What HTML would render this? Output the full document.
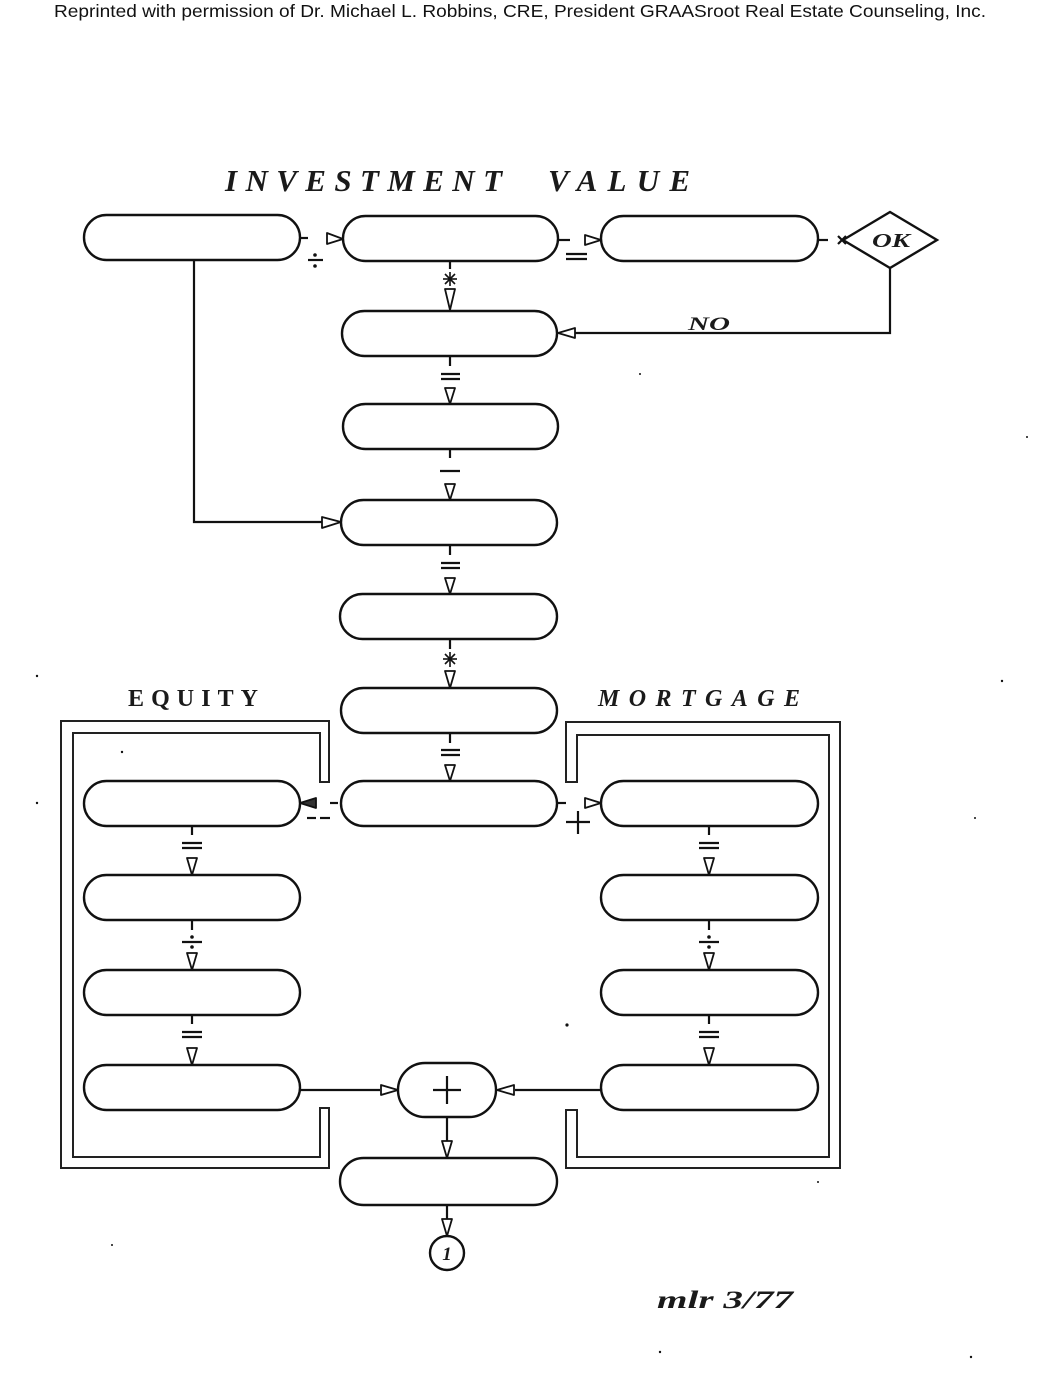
<!DOCTYPE html>
<html><head><meta charset="utf-8"><style>
html,body{margin:0;padding:0;background:#fff;}
svg{display:block;}
</style></head><body>
<svg width="1038" height="1380" viewBox="0 0 1038 1380" xmlns="http://www.w3.org/2000/svg">
<rect width="1038" height="1380" fill="#fff"/>
<text x="54" y="17" font-family="Liberation Sans, Arial, sans-serif" font-size="17.5" fill="#111" textLength="932" lengthAdjust="spacingAndGlyphs">Reprinted with permission of Dr. Michael L. Robbins, CRE, President GRAASroot Real Estate Counseling, Inc.</text>
<g font-family="Liberation Serif, serif" font-weight="bold" fill="#1a1a1a">
<text x="225" y="191" font-size="31" font-style="italic" textLength="277" lengthAdjust="spacing">INVESTMENT</text>
<text x="548" y="191" font-size="31" font-style="italic" textLength="142" lengthAdjust="spacing">VALUE</text>
<text x="128" y="706" font-size="24" textLength="130" lengthAdjust="spacing">EQUITY</text>
<text x="598" y="706" font-size="24" font-style="italic" textLength="202" lengthAdjust="spacing">MORTGAGE</text>
<text x="872" y="247" font-size="20" font-style="italic" textLength="38" lengthAdjust="spacingAndGlyphs">OK</text>
<text x="688" y="330" font-size="19" font-style="italic" textLength="42" lengthAdjust="spacingAndGlyphs">NO</text>
<text x="657" y="1308" font-size="25" font-style="italic" textLength="136" lengthAdjust="spacingAndGlyphs">mlr  3/77</text>
<text x="447" y="1260" font-size="19" font-style="italic" text-anchor="middle">1</text>
</g>
<g fill="none" stroke="#111" stroke-width="2.4">
<rect x="84" y="215" width="216" height="45" rx="22.5"/>
<rect x="343" y="216" width="215" height="45" rx="22.5"/>
<rect x="601" y="216" width="217" height="45" rx="22.5"/>
<polygon points="843,240 890,212 937,240 890,268"/>
<rect x="342" y="311" width="215" height="45" rx="22.5"/>
<rect x="343" y="404" width="215" height="45" rx="22.5"/>
<rect x="341" y="500" width="216" height="45" rx="22.5"/>
<rect x="340" y="594" width="217" height="45" rx="22.5"/>
<rect x="341" y="688" width="216" height="45" rx="22.5"/>
<rect x="341" y="781" width="216" height="45" rx="22.5"/>
<rect x="84" y="781" width="216" height="45" rx="22.5"/>
<rect x="84" y="875" width="216" height="45" rx="22.5"/>
<rect x="84" y="970" width="216" height="45" rx="22.5"/>
<rect x="84" y="1065" width="216" height="45" rx="22.5"/>
<rect x="601" y="781" width="217" height="45" rx="22.5"/>
<rect x="601" y="875" width="217" height="45" rx="22.5"/>
<rect x="601" y="970" width="217" height="45" rx="22.5"/>
<rect x="601" y="1065" width="217" height="45" rx="22.5"/>
<rect x="398" y="1063" width="98" height="54" rx="27"/>
<rect x="340" y="1158" width="217" height="47" rx="23.5"/>
<circle cx="447" cy="1253" r="17"/>
</g>
<g fill="none" stroke="#222" stroke-width="2">
<path d="M329,782 L329,721 L61,721 L61,1168 L329,1168 L329,1108 L320,1108 L320,1157 L73,1157 L73,733 L320,733 L320,782 Z"/>
<path d="M566,782 L566,722 L840,722 L840,1168 L566,1168 L566,1110 L577,1110 L577,1157 L829,1157 L829,735 L577,735 L577,782 Z"/>
</g>
<g fill="none" stroke="#111" stroke-width="2.2">
<line x1="300" y1="238" x2="308" y2="238"/>
<line x1="308" y1="260" x2="323" y2="260"/>
<line x1="558" y1="240" x2="570" y2="240"/>
<line x1="566" y1="254" x2="587" y2="254"/>
<line x1="566" y1="259" x2="587" y2="259"/>
<line x1="818" y1="240" x2="828" y2="240"/>
<line x1="838" y1="236" x2="846" y2="244"/>
<line x1="838" y1="244" x2="846" y2="236"/>
<polyline points="890,268 890,333 575,333"/>
<polyline points="194,260 194,522 322,522"/>
<line x1="450" y1="262" x2="450" y2="269"/>
<line x1="450" y1="357" x2="450" y2="366"/>
<line x1="441" y1="374" x2="460" y2="374"/>
<line x1="441" y1="379" x2="460" y2="379"/>
<line x1="450" y1="450" x2="450" y2="458"/>
<line x1="440" y1="471" x2="460" y2="471"/>
<line x1="450" y1="546" x2="450" y2="555"/>
<line x1="441" y1="563" x2="460" y2="563"/>
<line x1="441" y1="568" x2="460" y2="568"/>
<line x1="450" y1="640" x2="450" y2="649"/>
<line x1="450" y1="734" x2="450" y2="743"/>
<line x1="441" y1="750" x2="460" y2="750"/>
<line x1="441" y1="755" x2="460" y2="755"/>
<line x1="330" y1="803" x2="338" y2="803"/>
<line x1="307" y1="818" x2="316" y2="818"/>
<line x1="320" y1="818" x2="330" y2="818"/>
<line x1="558" y1="803" x2="566" y2="803"/>
<line x1="566" y1="822" x2="590" y2="822"/>
<line x1="578" y1="811" x2="578" y2="834"/>
<line x1="192" y1="827" x2="192" y2="835"/>
<line x1="182" y1="843" x2="202" y2="843"/>
<line x1="182" y1="848" x2="202" y2="848"/>
<line x1="192" y1="921" x2="192" y2="930"/>
<line x1="182" y1="942" x2="202" y2="942"/>
<line x1="192" y1="1016" x2="192" y2="1024"/>
<line x1="182" y1="1032" x2="202" y2="1032"/>
<line x1="182" y1="1037" x2="202" y2="1037"/>
<line x1="709" y1="827" x2="709" y2="835"/>
<line x1="699" y1="843" x2="719" y2="843"/>
<line x1="699" y1="848" x2="719" y2="848"/>
<line x1="709" y1="921" x2="709" y2="930"/>
<line x1="699" y1="942" x2="719" y2="942"/>
<line x1="709" y1="1016" x2="709" y2="1024"/>
<line x1="699" y1="1032" x2="719" y2="1032"/>
<line x1="699" y1="1037" x2="719" y2="1037"/>
<line x1="300" y1="1090" x2="380" y2="1090"/>
<line x1="601" y1="1090" x2="515" y2="1090"/>
<line x1="447" y1="1117" x2="447" y2="1141"/>
<line x1="447" y1="1205" x2="447" y2="1219"/>
<line x1="433" y1="1090" x2="461" y2="1090"/>
<line x1="447" y1="1076" x2="447" y2="1104"/>
<line x1="450" y1="272" x2="450" y2="286" stroke-width="1.6"/>
<line x1="443" y1="279" x2="457" y2="279" stroke-width="1.6"/>
<line x1="445" y1="274" x2="455" y2="284" stroke-width="1.6"/>
<line x1="455" y1="274" x2="445" y2="284" stroke-width="1.6"/>
<line x1="450" y1="652" x2="450" y2="667" stroke-width="1.6"/>
<line x1="443" y1="659" x2="457" y2="659" stroke-width="1.6"/>
<line x1="445" y1="654" x2="455" y2="664" stroke-width="1.6"/>
<line x1="455" y1="654" x2="445" y2="664" stroke-width="1.6"/>
</g>
<g fill="#111">
<circle cx="315" cy="255" r="1.8"/><circle cx="315" cy="266" r="1.8"/>
<circle cx="192" cy="937" r="1.8"/><circle cx="192" cy="947" r="1.8"/>
<circle cx="709" cy="937" r="1.8"/><circle cx="709" cy="947" r="1.8"/>
<circle cx="640" cy="374" r="1"/><circle cx="1027" cy="437" r="1"/><circle cx="122" cy="752" r="1.2"/>
<circle cx="37" cy="676" r="1.2"/><circle cx="37" cy="803" r="1.2"/><circle cx="1002" cy="681" r="1.2"/>
<circle cx="975" cy="818" r="1"/><circle cx="567" cy="1025" r="1.6"/><circle cx="112" cy="1245" r="1"/>
<circle cx="818" cy="1182" r="1"/><circle cx="660" cy="1352" r="1.2"/><circle cx="971" cy="1357" r="1.2"/>
</g>
<g fill="#fff" stroke="#111" stroke-width="1.8" stroke-linejoin="round">
<polygon points="327,233 327,244 343,239"/>
<polygon points="585,235 585,245 601,240"/>
<polygon points="322,517 322,528 341,522"/>
<polygon points="585,798 585,808 601,803"/>
<polygon points="381,1085 381,1095 398,1090"/>
<polygon points="575,328 575,338 558,333"/>
<polygon points="316,798 316,808 300,803" fill="#333"/>
<polygon points="514,1085 514,1095 497,1090"/>
<polygon points="445,289 455,289 450,310"/>
<polygon points="445,388 455,388 450,404"/>
<polygon points="445,484 455,484 450,500"/>
<polygon points="445,578 455,578 450,594"/>
<polygon points="445,671 455,671 450,688"/>
<polygon points="445,765 455,765 450,781"/>
<polygon points="187,858 197,858 192,875"/>
<polygon points="187,953 197,953 192,970"/>
<polygon points="187,1048 197,1048 192,1065"/>
<polygon points="704,858 714,858 709,875"/>
<polygon points="704,953 714,953 709,970"/>
<polygon points="704,1048 714,1048 709,1065"/>
<polygon points="442,1141 452,1141 447,1158"/>
<polygon points="442,1219 452,1219 447,1236"/>
</g>
</svg>
</body></html>
